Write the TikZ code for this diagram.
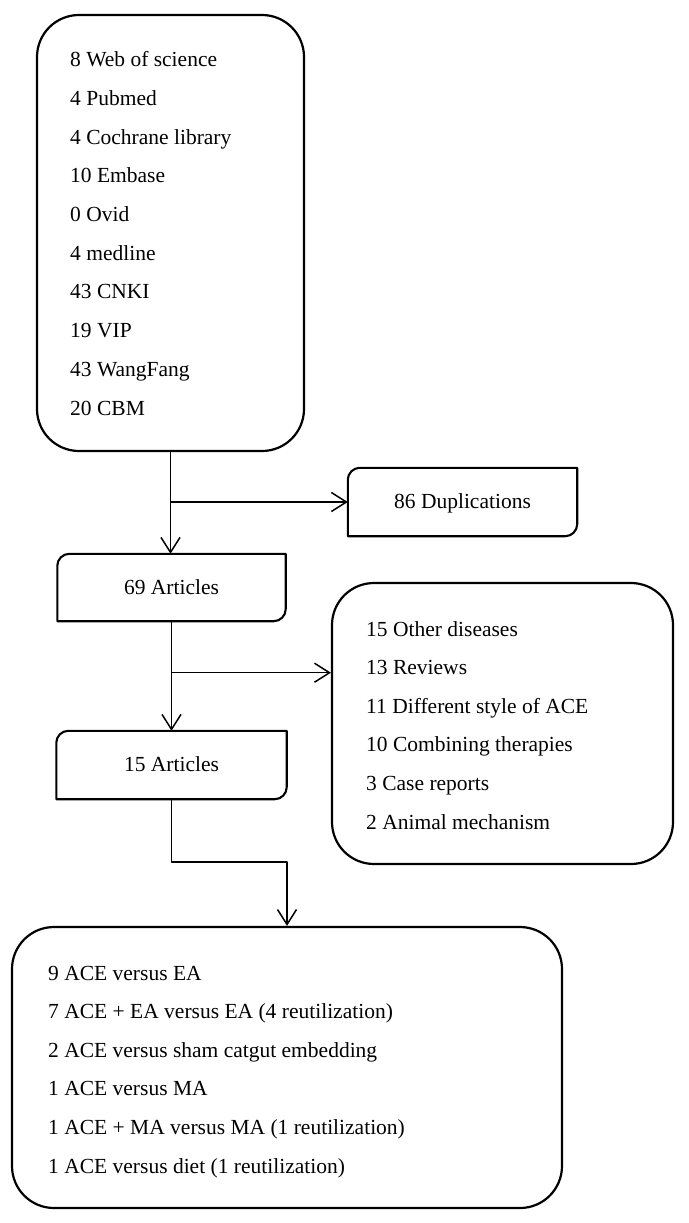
\documentclass[tikz,border=0pt]{standalone}
\usepackage{fontspec}
\setmainfont{Liberation Serif}
\usetikzlibrary{arrows.meta,calc}
\begin{document}
\begin{tikzpicture}[x=1pt,y=-1pt,line join=round,
  bigbox/.style={draw,line width=2.2pt,rounded corners=42pt,inner sep=0pt},
  plainbox/.style={inner sep=0pt,font=\fontsize{21.5}{26}\selectfont,text height=13pt,text depth=0pt},
  halfround/.style={line width=2.1pt},
  txt/.style={anchor=base west,inner sep=0pt,font=\fontsize{21.5}{26}\selectfont},
  arr/.style={line width=1.5pt,-{Straight Barb[length=15pt,width=19pt,line width=1.5pt]}}]
\useasboundingbox (0,0) rectangle (688,1223);
% boxes
\node[bigbox,minimum width=267pt,minimum height=436pt] (src) at (170.5,233) {};
\node[plainbox,minimum width=229pt,minimum height=68pt] (dup) at (462.5,502) {86 Duplications};
\node[plainbox,minimum width=228pt,minimum height=67pt] (a69) at (171.5,587.5) {69 Articles};
\node[plainbox,minimum width=230pt,minimum height=68pt] (a15) at (171.5,765) {15 Articles};
\node[bigbox,minimum width=341pt,minimum height=281pt] (excl) at (502.5,723.5) {};
\node[bigbox,minimum width=550pt,minimum height=281pt] (bot) at (287,1067.5) {};
% two-corner rounded outlines (top-left and bottom-right rounded)
\foreach \n in {dup,a69,a15}
  \draw[halfround] (\n.south west) -- ($(\n.north west)+(0,12)$)
    .. controls ($(\n.north west)+(0,5.4)$) and ($(\n.north west)+(5.4,0)$) .. ($(\n.north west)+(12,0)$)
    -- (\n.north east) -- ($(\n.south east)+(0,-12)$)
    .. controls ($(\n.south east)+(0,-5.4)$) and ($(\n.south east)+(-5.4,0)$) .. ($(\n.south east)+(-12,0)$) -- cycle;
% texts
\foreach \t [count=\i] in {{8 Web of science},{4 Pubmed},{4 Cochrane library},{10 Embase},{0 Ovid},{4 medline},{43 CNKI},{19 VIP},{43 WangFang},{20 CBM}}
  \node[txt] (s\i) at ({70},{66.7+38.7*(\i-1)}) {\t};
\foreach \t [count=\i] in {{15 Other diseases},{13 Reviews},{11 Different style of ACE},{10 Combining therapies},{3 Case reports},{2 Animal mechanism}}
  \node[txt] (e\i) at ({366},{636+38.6*(\i-1)}) {\t};
\foreach \t [count=\i] in {{9 ACE versus EA},{7 ACE + EA versus EA (4 reutilization)},{2 ACE versus sham catgut embedding},{1 ACE versus MA},{1 ACE + MA versus MA (1 reutilization)},{1 ACE versus diet (1 reutilization)}}
  \node[txt] (r\i) at ({48},{980+38.6*(\i-1)}) {\t};
% connectors
\coordinate (b1) at ($(src.south)!0.5!(src.south |- a69.north)$);
\coordinate (b2) at ($(a69.south)!0.47!(a15.north)$);
\draw[arr] (src.south) -- (src.south |- a69.north);
\draw[arr] (b1 |- dup.west) -- (dup.west);
\draw[arr] (a69.south) -- (a15.north);
\draw[arr] (b2) -- (b2 -| excl.west);
\draw[arr] (a15.south) -- ++(0,63) -| (bot.north);
\end{tikzpicture}
\end{document}
